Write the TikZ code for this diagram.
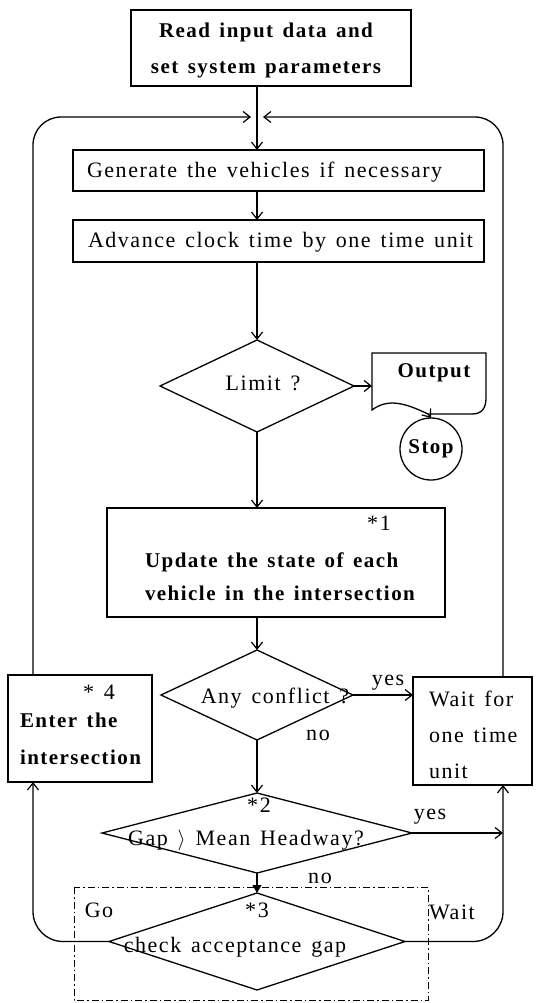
\documentclass[tikz,border=0pt]{standalone}
\usepackage{fontspec}
\setmainfont{Liberation Serif}[LetterSpace=7,WordSpace=1.4]
\usetikzlibrary{arrows.meta,shapes.geometric}
\begin{document}
\begin{tikzpicture}[x=1pt,y=-1pt,
  every node/.style={font=\fontsize{22}{34}\selectfont, inner sep=0pt, outer sep=0pt},
  bf/.style={font=\fontsize{21}{#1}\selectfont\bfseries},
  box/.style={draw, line width=1.3pt, rectangle},
  dia/.style={draw, line width=1.3pt, diamond},
  lbl/.style={align=left},
  flow/.style={line width=1.3pt, -{Straight Barb[length=7pt,width=11pt,line width=1.2pt]}},
  fillflow/.style={line width=1.3pt, -{Triangle[length=8pt,width=9pt]}},
  plain/.style={line width=1.3pt},
  dashbox/.style={line width=0.9pt, dash pattern=on 7pt off 3pt on 1.5pt off 3pt}
]
\useasboundingbox (0,0) rectangle (535,1003);

% boxes
\node[box, minimum width=280pt, minimum height=76pt] (read) at (271,48) {};
\node[bf=36, align=center] (readT) at (266,50) {Read input data and\\set system parameters};

\node[box, minimum width=411pt, minimum height=41pt] (gen) at (278.5,170.5) {};
\node[anchor=west] (genT) at (87,172) {Generate the vehicles if necessary};

\node[box, minimum width=411pt, minimum height=42pt] (adv) at (278.5,241) {};
\node[anchor=west] (advT) at (88,242) {Advance clock time by one time unit};

\node[dia, minimum width=194pt, minimum height=92pt] (limit) at (257,386) {};
\node (limitT) at (263,383) {Limit ?};

% output document shape
\draw[plain] (372,353) -- (486,353) -- (486,398) .. controls (486,408) and (482,414) .. (472,414) -- (428,414) .. controls (405,403) and (388,398) .. (372,410) -- cycle;
\node[bf=34] (outT) at (434,373) {Output};
\coordinate (outW) at (372,386);
\coordinate (outB) at (428,414);

\node[draw, circle, line width=1.3pt, minimum size=62pt] (stop) at (431,449) {};
\node[bf=34] (stopT) at (431,449) {Stop};

\node[box, minimum width=338pt, minimum height=109pt] (upd) at (276,562.5) {};
\node (s1) at (379,523) {*1};
\node[anchor=west, lbl, bf=33] (updT) at (145,577) {Update the state of each\\vehicle in the intersection};

\node[dia, minimum width=192pt, minimum height=90pt] (any) at (257,695) {};
\node (anyT) at (275,698) {Any conflict ?};

\node[box, minimum width=119pt, minimum height=108pt] (wait) at (472.5,731) {};
\node[anchor=west, lbl, font=\fontsize{22}{36}\selectfont] (waitT) at (429,735) {Wait for\\one time\\unit};

\node[box, minimum width=144pt, minimum height=107pt] (enter) at (80,728.5) {};
\node (s4) at (99,692) {* 4};
\node[anchor=west, lbl, bf=37] (enterT) at (20,739) {Enter the\\intersection};

\node[dia, minimum width=310pt, minimum height=80pt] (gap) at (257,833) {};
\node (s2) at (259,805) {*2};
\node (gapT) at (246,840) {Gap $\rangle$ Mean Headway?};

\draw[dashbox] (74,887) rectangle (428,1000);
\node[dia, minimum width=296pt, minimum height=97pt] (check) at (257,941.5) {};
\node (s3) at (257,910) {*3};
\node (checkT) at (235,947) {check acceptance gap};

% labels
\node (yes1) at (388,683) {yes};
\node (no1) at (318,735) {no};
\node (yes2) at (430,817) {yes};
\node (no2) at (320,878) {no};
\node (go) at (99,910) {Go};
\node (waitL) at (452,912) {Wait};

% loop coordinates
\coordinate (jL) at (251,117);
\coordinate (jR) at (263,117);
\coordinate (eT) at (33,675);
\coordinate (eB) at (33,782);
\coordinate (wT) at (503,677);
\coordinate (wB) at (503,785);

% connectors
\draw[plain] (read.south -| limit.north) -- (jL -| limit.north);
\draw[flow] (jL -| limit.north) -- (gen.north -| limit.north);
\draw[flow] (gen.south -| limit.north) -- (adv.north -| limit.north);
\draw[flow] (adv.south -| limit.north) -- (limit.north);
\draw[flow] (limit.east) -- (outW);
\draw[flow] (outB) -- (stop.north);
\draw[flow] (limit.south) -- (upd.north -| limit.south);
\draw[flow] (upd.south -| any.north) -- (any.north);
\draw[flow] (any.east) -- (any.east -| wait.west);
\draw[flow] (any.south) -- (gap.north);
\draw[flow] (gap.east) -- (gap.east -| wB);
\draw[fillflow] (gap.south) -- (check.north);
\draw[flow, rounded corners=28pt] (eT) |- (jL);
\draw[flow, rounded corners=28pt] (wT) |- (jR);
\draw[flow, rounded corners=30pt] (check.west) -| (eB);
\draw[flow, rounded corners=30pt] (check.east) -| (wB);
\end{tikzpicture}
\end{document}
